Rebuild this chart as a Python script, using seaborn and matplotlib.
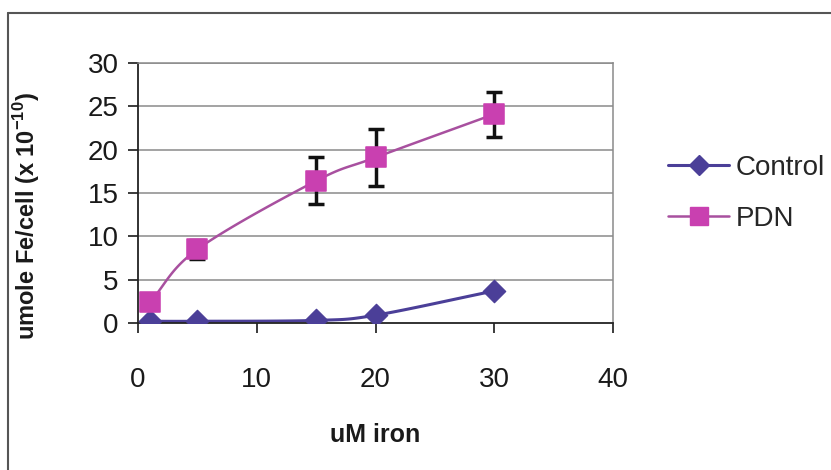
import numpy as np
import pandas as pd
import seaborn as sns
from matplotlib import pyplot as plt
from matplotlib.lines import Line2D

iron = [1, 5, 15, 20, 30]
control = [0.2, 0.2, 0.3, 0.9, 3.7]
pdn = [2.4, 8.5, 16.4, 19.1, 24.1]
pdn_err = [0.0, 1.1, 2.7, 3.3, 2.6]

x_ticks = [0, 10, 20, 30, 40]
y_ticks = [0, 5, 10, 15, 20, 25, 30]

control_color = "#4B3F98"
pdn_line_color = "#A8509F"
pdn_marker_color = "#C940B0"


def smooth(xs, ys, n=30):
    # excel-style smoothed line (catmull-rom through the points)
    xs = np.asarray(xs, float)
    ys = np.asarray(ys, float)
    px = np.concatenate([[2 * xs[0] - xs[1]], xs, [2 * xs[-1] - xs[-2]]])
    py = np.concatenate([[2 * ys[0] - ys[1]], ys, [2 * ys[-1] - ys[-2]]])
    out_x, out_y = [], []
    t = np.linspace(0, 1, n)
    for i in range(1, len(px) - 2):
        for p, out in ((px, out_x), (py, out_y)):
            p0, p1, p2, p3 = p[i - 1], p[i], p[i + 1], p[i + 2]
            out.extend(0.5 * ((2 * p1) + (-p0 + p2) * t
                              + (2 * p0 - 5 * p1 + 4 * p2 - p3) * t ** 2
                              + (-p0 + 3 * p1 - 3 * p2 + p3) * t ** 3))
    return out_x, out_y


sns.set_style("white")
plt.rcParams["font.family"] = ["Liberation Sans", "DejaVu Sans"]
plt.rcParams["mathtext.fontset"] = "custom"
plt.rcParams["mathtext.bf"] = "Liberation Sans:bold"
plt.rcParams["mathtext.rm"] = "Liberation Sans:bold"

fig = plt.figure(figsize=(8.31, 4.70), dpi=100)
ax = fig.add_axes([138 / 831, 1 - 323 / 470, 475 / 831, 260 / 470])

df = pd.DataFrame({"iron": iron, "Control": control, "PDN": pdn, "err": pdn_err})

for col in y_ticks[1:]:
    ax.axhline(col, color="#8a8a8a", lw=1.1, zorder=0)

cx, cy = smooth(iron, control)
sns.lineplot(x=cx, y=cy, ax=ax, color=control_color, lw=2.2, sort=False, zorder=2)
px_, py_ = smooth(iron, pdn)
sns.lineplot(x=px_, y=py_, ax=ax, color=pdn_line_color, lw=1.8, sort=False, zorder=2)

ax.errorbar(df["iron"], df["PDN"], yerr=df["err"], fmt="none", ecolor="#111111",
            elinewidth=2.5, capsize=5.5, capthick=2.5, zorder=3)

sns.scatterplot(data=df, x="iron", y="Control", ax=ax, marker="D", s=130,
                color=control_color, edgecolor=control_color, zorder=4)
sns.scatterplot(data=df, x="iron", y="PDN", ax=ax, marker="s", s=200,
                color=pdn_marker_color, edgecolor=pdn_marker_color, zorder=4)

ax.set_xlim(0, 40)
ax.set_ylim(0, 30)
ax.set_xticks(x_ticks)
ax.set_yticks(y_ticks)
ax.tick_params(axis="both", labelsize=20, colors="#1a1a1a", direction="out",
               length=7, width=1.2)
ax.tick_params(axis="x", pad=25, bottom=True)
ax.tick_params(axis="y", pad=7, left=True)

for s in ["left", "bottom"]:
    ax.spines[s].set_color("#222222")
    ax.spines[s].set_linewidth(1.3)
for s in ["top", "right"]:
    ax.spines[s].set_color("#8a8a8a")
    ax.spines[s].set_linewidth(1.1)

ax.set_xlabel("uM iron", fontsize=18, fontweight="bold", color="#1a1a1a")
ax.xaxis.set_label_coords(0.5, -0.385)
ax.set_ylabel(r"umole Fe/cell (x 10$^{\mathbf{-10}}$)", fontsize=17,
              fontweight="bold", color="#1a1a1a")
ax.yaxis.set_label_coords(-0.202, 0.41)

handles = [
    Line2D([], [], color=control_color, lw=2.2, marker="D", markersize=10),
    Line2D([], [], color=pdn_line_color, lw=1.8, marker="s", markersize=13,
           markerfacecolor=pdn_marker_color, markeredgecolor=pdn_marker_color),
]
fig.legend(handles, ["Control", "PDN"], loc="center left",
           bbox_to_anchor=(668 / 831, 1 - 193.5 / 470), frameon=False,
           fontsize=20, handlelength=2.2, handletextpad=0.25, labelspacing=0.9,
           borderpad=0, borderaxespad=0)

# outer chart frame
fig.add_artist(Line2D([8 / 831, 8 / 831], [0, 1 - 13 / 470], color="#555555", lw=1.5))
fig.add_artist(Line2D([8 / 831, 1], [1 - 13 / 470, 1 - 13 / 470], color="#555555", lw=1.5))

plt.savefig("out.png", dpi=100, facecolor="white")
